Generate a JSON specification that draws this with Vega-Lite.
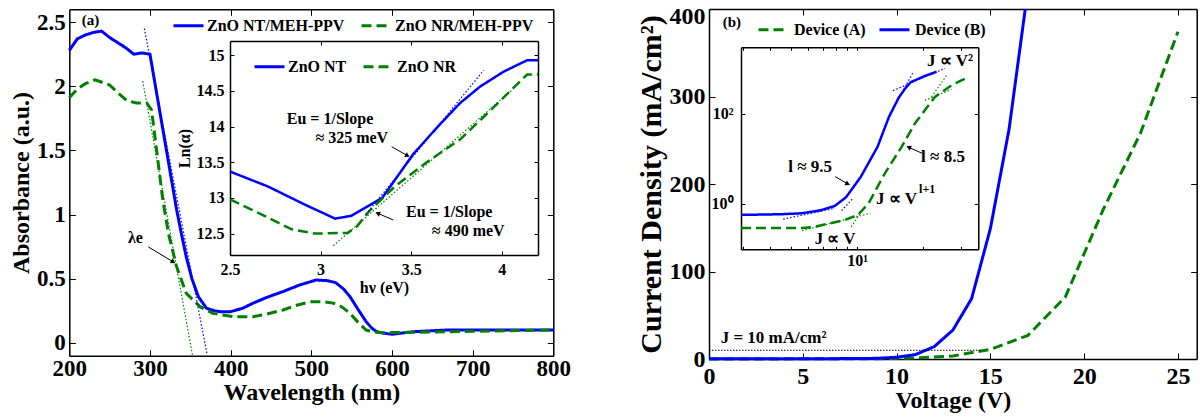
{
"$schema":"https://vega.github.io/schema/vega-lite/v6.json",
"width":1203,"height":419,"autosize":"none","padding":0,"background":"white",
"config":{
 "view":{"stroke":null},
 "font":"Liberation Serif",
 "axis":{"grid":false,"domainColor":"black","domainWidth":1.5,"tickColor":"black","tickWidth":1,"labelFont":"Liberation Serif","labelFontWeight":"bold","labelColor":"black","titleFont":"Liberation Serif","titleFontWeight":"bold","titleColor":"black","labelFlush":false,"labelOverlap":false,"labelBound":false},
 "legend":{"labelFont":"Liberation Serif","labelFontWeight":"bold","labelColor":"black","labelFontSize":16,"symbolType":"stroke","symbolSize":900,"symbolStrokeWidth":3,"padding":0},
 "text":{"font":"Liberation Serif","fontWeight":"bold","color":"black"}
},
"datasets":{
 "aMain":[
  {"wl":200,"abs":2.28,"s":"ZnO NT/MEH-PPV"},{"wl":210,"abs":2.37,"s":"ZnO NT/MEH-PPV"},{"wl":220,"abs":2.40,"s":"ZnO NT/MEH-PPV"},{"wl":230,"abs":2.42,"s":"ZnO NT/MEH-PPV"},{"wl":240,"abs":2.43,"s":"ZnO NT/MEH-PPV"},{"wl":250,"abs":2.38,"s":"ZnO NT/MEH-PPV"},{"wl":260,"abs":2.34,"s":"ZnO NT/MEH-PPV"},{"wl":270,"abs":2.30,"s":"ZnO NT/MEH-PPV"},{"wl":280,"abs":2.25,"s":"ZnO NT/MEH-PPV"},{"wl":290,"abs":2.26,"s":"ZnO NT/MEH-PPV"},{"wl":300,"abs":2.25,"s":"ZnO NT/MEH-PPV"},{"wl":333,"abs":1.04,"s":"ZnO NT/MEH-PPV"},{"wl":339,"abs":0.85,"s":"ZnO NT/MEH-PPV"},{"wl":345,"abs":0.67,"s":"ZnO NT/MEH-PPV"},{"wl":352,"abs":0.50,"s":"ZnO NT/MEH-PPV"},{"wl":360,"abs":0.36,"s":"ZnO NT/MEH-PPV"},{"wl":370,"abs":0.27,"s":"ZnO NT/MEH-PPV"},{"wl":380,"abs":0.25,"s":"ZnO NT/MEH-PPV"},{"wl":387,"abs":0.243,"s":"ZnO NT/MEH-PPV"},{"wl":400,"abs":0.243,"s":"ZnO NT/MEH-PPV"},{"wl":415,"abs":0.27,"s":"ZnO NT/MEH-PPV"},{"wl":428,"abs":0.31,"s":"ZnO NT/MEH-PPV"},{"wl":445,"abs":0.355,"s":"ZnO NT/MEH-PPV"},{"wl":465,"abs":0.40,"s":"ZnO NT/MEH-PPV"},{"wl":485,"abs":0.45,"s":"ZnO NT/MEH-PPV"},{"wl":506,"abs":0.49,"s":"ZnO NT/MEH-PPV"},{"wl":520,"abs":0.485,"s":"ZnO NT/MEH-PPV"},{"wl":530,"abs":0.47,"s":"ZnO NT/MEH-PPV"},{"wl":540,"abs":0.42,"s":"ZnO NT/MEH-PPV"},{"wl":548,"abs":0.36,"s":"ZnO NT/MEH-PPV"},{"wl":558,"abs":0.26,"s":"ZnO NT/MEH-PPV"},{"wl":568,"abs":0.165,"s":"ZnO NT/MEH-PPV"},{"wl":575,"abs":0.115,"s":"ZnO NT/MEH-PPV"},{"wl":581,"abs":0.087,"s":"ZnO NT/MEH-PPV"},{"wl":590,"abs":0.075,"s":"ZnO NT/MEH-PPV"},{"wl":600,"abs":0.067,"s":"ZnO NT/MEH-PPV"},{"wl":626,"abs":0.087,"s":"ZnO NT/MEH-PPV"},{"wl":668,"abs":0.10,"s":"ZnO NT/MEH-PPV"},{"wl":800,"abs":0.10,"s":"ZnO NT/MEH-PPV"},
  {"wl":200,"abs":1.91,"s":"ZnO NR/MEH-PPV"},{"wl":210,"abs":1.98,"s":"ZnO NR/MEH-PPV"},{"wl":220,"abs":2.02,"s":"ZnO NR/MEH-PPV"},{"wl":232,"abs":2.05,"s":"ZnO NR/MEH-PPV"},{"wl":250,"abs":2.01,"s":"ZnO NR/MEH-PPV"},{"wl":260,"abs":1.95,"s":"ZnO NR/MEH-PPV"},{"wl":271,"abs":1.89,"s":"ZnO NR/MEH-PPV"},{"wl":283,"abs":1.87,"s":"ZnO NR/MEH-PPV"},{"wl":296,"abs":1.87,"s":"ZnO NR/MEH-PPV"},{"wl":302,"abs":1.815,"s":"ZnO NR/MEH-PPV"},{"wl":316,"abs":1.11,"s":"ZnO NR/MEH-PPV"},{"wl":323,"abs":0.85,"s":"ZnO NR/MEH-PPV"},{"wl":333,"abs":0.594,"s":"ZnO NR/MEH-PPV"},{"wl":345,"abs":0.386,"s":"ZnO NR/MEH-PPV"},{"wl":362,"abs":0.282,"s":"ZnO NR/MEH-PPV"},{"wl":378,"abs":0.23,"s":"ZnO NR/MEH-PPV"},{"wl":403,"abs":0.204,"s":"ZnO NR/MEH-PPV"},{"wl":428,"abs":0.204,"s":"ZnO NR/MEH-PPV"},{"wl":445,"abs":0.225,"s":"ZnO NR/MEH-PPV"},{"wl":465,"abs":0.256,"s":"ZnO NR/MEH-PPV"},{"wl":480,"abs":0.29,"s":"ZnO NR/MEH-PPV"},{"wl":498,"abs":0.32,"s":"ZnO NR/MEH-PPV"},{"wl":515,"abs":0.32,"s":"ZnO NR/MEH-PPV"},{"wl":527,"abs":0.31,"s":"ZnO NR/MEH-PPV"},{"wl":538,"abs":0.28,"s":"ZnO NR/MEH-PPV"},{"wl":548,"abs":0.23,"s":"ZnO NR/MEH-PPV"},{"wl":558,"abs":0.16,"s":"ZnO NR/MEH-PPV"},{"wl":568,"abs":0.10,"s":"ZnO NR/MEH-PPV"},{"wl":578,"abs":0.085,"s":"ZnO NR/MEH-PPV"},{"wl":589,"abs":0.078,"s":"ZnO NR/MEH-PPV"},{"wl":600,"abs":0.08,"s":"ZnO NR/MEH-PPV"},{"wl":650,"abs":0.085,"s":"ZnO NR/MEH-PPV"},{"wl":700,"abs":0.09,"s":"ZnO NR/MEH-PPV"},{"wl":800,"abs":0.10,"s":"ZnO NR/MEH-PPV"}
 ],
 "aFit":[
  {"wl":293,"abs":2.45,"s":"NT"},{"wl":371,"abs":-0.095,"s":"NT"},
  {"wl":291,"abs":2.04,"s":"NR"},{"wl":352.7,"abs":-0.095,"s":"NR"}
 ],
 "aIn":[
  {"e":2.5,"ln":13.37,"s":"ZnO NT"},{"e":2.71,"ln":13.16,"s":"ZnO NT"},{"e":2.91,"ln":12.91,"s":"ZnO NT"},{"e":3.08,"ln":12.71,"s":"ZnO NT"},{"e":3.17,"ln":12.75,"s":"ZnO NT"},{"e":3.34,"ln":13.0,"s":"ZnO NT"},{"e":3.51,"ln":13.61,"s":"ZnO NT"},{"e":3.64,"ln":13.98,"s":"ZnO NT"},{"e":3.77,"ln":14.33,"s":"ZnO NT"},{"e":3.88,"ln":14.56,"s":"ZnO NT"},{"e":4.01,"ln":14.77,"s":"ZnO NT"},{"e":4.14,"ln":14.93,"s":"ZnO NT"},{"e":4.2,"ln":14.93,"s":"ZnO NT"},
  {"e":2.5,"ln":12.98,"s":"ZnO NR"},{"e":2.69,"ln":12.75,"s":"ZnO NR"},{"e":2.84,"ln":12.56,"s":"ZnO NR"},{"e":2.97,"ln":12.5,"s":"ZnO NR"},{"e":3.15,"ln":12.51,"s":"ZnO NR"},{"e":3.2,"ln":12.6,"s":"ZnO NR"},{"e":3.27,"ln":12.82,"s":"ZnO NR"},{"e":3.41,"ln":13.16,"s":"ZnO NR"},{"e":3.58,"ln":13.49,"s":"ZnO NR"},{"e":3.77,"ln":13.82,"s":"ZnO NR"},{"e":3.93,"ln":14.21,"s":"ZnO NR"},{"e":4.14,"ln":14.73,"s":"ZnO NR"},{"e":4.2,"ln":14.73,"s":"ZnO NR"}
 ],
 "aInFit":[
  {"e":3.25,"ln":12.77,"s":"NT"},{"e":3.90,"ln":14.79,"s":"NT"},
  {"e":3.07,"ln":12.33,"s":"NR"},{"e":4.06,"ln":14.52,"s":"NR"}
 ],
 "bMain":[
  {"v":0,"j":0.1,"s":"Device (A)"},{"v":5,"j":0.15,"s":"Device (A)"},{"v":9,"j":0.4,"s":"Device (A)"},{"v":11,"j":1.2,"s":"Device (A)"},{"v":13,"j":3.5,"s":"Device (A)"},{"v":15,"j":11,"s":"Device (A)"},{"v":17,"j":27,"s":"Device (A)"},{"v":19,"j":71,"s":"Device (A)"},{"v":21,"j":170,"s":"Device (A)"},{"v":23,"j":258,"s":"Device (A)"},{"v":25,"j":374,"s":"Device (A)"},
  {"v":0,"j":0.2,"s":"Device (B)"},{"v":5,"j":0.3,"s":"Device (B)"},{"v":8,"j":0.5,"s":"Device (B)"},{"v":9,"j":0.8,"s":"Device (B)"},{"v":10,"j":2,"s":"Device (B)"},{"v":11,"j":5,"s":"Device (B)"},{"v":12,"j":14,"s":"Device (B)"},{"v":13,"j":33,"s":"Device (B)"},{"v":14,"j":69,"s":"Device (B)"},{"v":15,"j":149,"s":"Device (B)"},{"v":16,"j":263,"s":"Device (B)"},{"v":16.86,"j":400,"s":"Device (B)"}
 ],
 "bIn":[
  {"v":2.95,"j":0.29,"s":"A"},{"v":5.6,"j":0.29,"s":"A"},{"v":6.4,"j":0.31,"s":"A"},{"v":8.8,"j":0.44,"s":"A"},{"v":10.1,"j":0.57,"s":"A"},{"v":11.3,"j":1.04,"s":"A"},{"v":13.4,"j":4.8,"s":"A"},{"v":16.0,"j":18.8,"s":"A"},{"v":18.4,"j":62,"s":"A"},{"v":20.5,"j":125,"s":"A"},{"v":22.7,"j":240,"s":"A"},{"v":27.1,"j":440,"s":"A"},{"v":32.3,"j":660,"s":"A"},
  {"v":2.95,"j":0.57,"s":"B"},{"v":4.5,"j":0.59,"s":"B"},{"v":5.6,"j":0.62,"s":"B"},{"v":6.8,"j":0.72,"s":"B"},{"v":7.9,"j":0.9,"s":"B"},{"v":8.9,"j":1.4,"s":"B"},{"v":10.4,"j":4.0,"s":"B"},{"v":12.4,"j":18.5,"s":"B"},{"v":14.0,"j":87,"s":"B"},{"v":15.5,"j":230,"s":"B"},{"v":16.6,"j":370,"s":"B"},{"v":17.6,"j":510,"s":"B"},{"v":20.4,"j":700,"s":"B"},{"v":23.1,"j":870,"s":"B"}
 ],
 "bInFit":[
  {"v":4.6,"j":0.46,"s":"B","seg":"B1"},{"v":7.93,"j":0.80,"s":"B","seg":"B1"},
  {"v":8.5,"j":0.71,"s":"B","seg":"B2"},{"v":9.5,"j":1.27,"s":"B","seg":"B2"},
  {"v":16.3,"j":343,"s":"B","seg":"B3"},{"v":18.1,"j":873,"s":"B","seg":"B3"},
  {"v":14.6,"j":330,"s":"B","seg":"B4"},{"v":25.2,"j":1030,"s":"B","seg":"B4"},
  {"v":5.6,"j":0.255,"s":"A","seg":"A1"},{"v":11.5,"j":0.62,"s":"A","seg":"A1"},
  {"v":9.4,"j":0.31,"s":"A","seg":"A2"},{"v":10.4,"j":0.64,"s":"A","seg":"A2"},
  {"v":21.9,"j":240,"s":"A","seg":"A3"},{"v":25.7,"j":734,"s":"A","seg":"A3"},
  {"v":20.4,"j":200,"s":"A","seg":"A4"},{"v":27,"j":350,"s":"A","seg":"A4"}
 ]
},
"resolve":{"scale":{"x":"independent","y":"independent","color":"independent","strokeDash":"independent","stroke":"independent"}},
"layer":[
 {
  "resolve":{"axis":{"x":"independent","y":"independent"}},
  "layer":[
   {"data":{"name":"aMain"},
    "mark":{"type":"line","strokeWidth":3},
    "encoding":{
     "x":{"field":"wl","type":"quantitative","scale":{"domain":[200,800],"range":[69.3,553.3],"nice":false,"zero":false},
      "axis":{"orient":"bottom","offset":-63.3,"values":[200,300,400,500,600,700,800],"tickSize":-6,"labelFontSize":23,"labelPadding":8,"title":"Wavelength (nm)","titleFontSize":24,"titlePadding":0}},
     "y":{"field":"abs","type":"quantitative","scale":{"domain":[-0.1,2.6],"range":[355.7,9.3],"nice":false,"zero":false},
      "axis":{"orient":"left","offset":-69.3,"values":[0,0.5,1,1.5,2,2.5],"format":"~g","tickSize":-6,"labelFontSize":23,"labelPadding":10,"title":"Absorbance (a.u.)","titleFontSize":24,"titlePadding":3}},
     "color":{"field":"s","type":"nominal","scale":{"domain":["ZnO NT/MEH-PPV","ZnO NR/MEH-PPV"],"range":["#0000ff","#008000"]},
      "legend":{"orient":"none","legendX":172,"legendY":9,"direction":"horizontal","title":null,"labelOffset":2,"columnPadding":10}},
     "strokeDash":{"field":"s","type":"nominal","scale":{"domain":["ZnO NT/MEH-PPV","ZnO NR/MEH-PPV"],"range":[[1,0],[10,5]]},
      "legend":{"orient":"none","legendX":172,"legendY":9,"direction":"horizontal","title":null,"labelOffset":2,"columnPadding":10}}
    }},
   {"data":{"name":"aFit"},
    "mark":{"type":"line","strokeWidth":1.2,"strokeDash":[1.5,2]},
    "encoding":{
     "x":{"field":"wl","type":"quantitative","axis":{"orient":"top","offset":-9.3,"values":[300,400,500,600,700],"tickSize":-6,"labels":false,"title":null}},
     "y":{"field":"abs","type":"quantitative","axis":{"orient":"right","offset":-649.7,"values":[0,0.5,1,1.5,2,2.5],"tickSize":-6,"labels":false,"title":null}},
     "stroke":{"field":"s","type":"nominal","scale":{"domain":["NT","NR"],"range":["#0000ff","#008000"]},"legend":null}
    }},
   {"data":{"values":[{"x":215.4,"y":2.516,"t":"(a)"}]},
    "mark":{"type":"text","align":"left","baseline":"middle","fontSize":15},
    "encoding":{"x":{"field":"x","type":"quantitative","axis":null},"y":{"field":"y","type":"quantitative","axis":null},"text":{"field":"t"}}},
   {"data":{"values":[{"x":282,"y":0.818,"t":"λe"}]},
    "mark":{"type":"text","align":"center","baseline":"middle","fontSize":16},
    "encoding":{"x":{"field":"x","type":"quantitative","axis":null},"y":{"field":"y","type":"quantitative","axis":null},"text":{"field":"t"}}},
   {"data":{"values":[{"x":297.9,"y":0.748,"x2":328.9,"y2":0.631}]},
    "mark":{"type":"rule","color":"black","strokeWidth":1},
    "encoding":{"x":{"field":"x","type":"quantitative","axis":null},"y":{"field":"y","type":"quantitative","axis":null},"x2":{"field":"x2"},"y2":{"field":"y2"}}},
   {"data":{"values":[{"x":328.9,"y":0.631}]},
    "mark":{"type":"point","shape":"triangle-up","filled":true,"color":"black","opacity":1,"size":30,"angle":121},
    "encoding":{"x":{"field":"x","type":"quantitative","axis":null},"y":{"field":"y","type":"quantitative","axis":null}}}
  ]
 },
 {
  "resolve":{"axis":{"x":"independent","y":"independent"}},
  "layer":[
   {"data":{"name":"aIn"},
    "mark":{"type":"line","strokeWidth":2.5},
    "encoding":{
     "x":{"field":"e","type":"quantitative","scale":{"domain":[2.5,4.2],"range":[230,538],"nice":false,"zero":false},
      "axis":{"orient":"bottom","offset":-164,"values":[2.5,3,3.5,4],"format":"~g","tickSize":-4,"labelFontSize":16,"labelPadding":10,"title":"hν (eV)","titleFontSize":16,"titlePadding":2}},
     "y":{"field":"ln","type":"quantitative","scale":{"domain":[12.2,15.2],"range":[255,41],"nice":false,"zero":false},
      "axis":{"orient":"left","offset":-230,"values":[12.5,13,13.5,14,14.5,15],"format":"~g","tickSize":-4,"labelFontSize":16,"labelPadding":10,"title":"Ln(α)","titleFontSize":16,"titlePadding":4}},
     "color":{"field":"s","type":"nominal","scale":{"domain":["ZnO NT","ZnO NR"],"range":["#0000ff","#008000"]},
      "legend":{"orient":"none","legendX":253,"legendY":50,"direction":"horizontal","title":null,"labelOffset":2,"columnPadding":10}},
     "strokeDash":{"field":"s","type":"nominal","scale":{"domain":["ZnO NT","ZnO NR"],"range":[[1,0],[10,5]]},
      "legend":{"orient":"none","legendX":253,"legendY":50,"direction":"horizontal","title":null,"labelOffset":2,"columnPadding":10}}
    }},
   {"data":{"name":"aInFit"},
    "mark":{"type":"line","strokeWidth":1.2,"strokeDash":[1.5,2]},
    "encoding":{
     "x":{"field":"e","type":"quantitative","axis":{"orient":"top","offset":-41,"values":[3,3.5,4],"tickSize":-4,"labels":false,"title":null}},
     "y":{"field":"ln","type":"quantitative","axis":{"orient":"right","offset":-665,"values":[12.5,13,13.5,14,14.5,15],"tickSize":-4,"labels":false,"title":null}},
     "stroke":{"field":"s","type":"nominal","scale":{"domain":["NT","NR"],"range":["#0000ff","#008000"]},"legend":null}
    }},
   {"data":{"values":[{"x":3.052,"y":14.107,"t":"Eu = 1/Slope"},{"x":3.172,"y":13.847,"t":"≈ 325 meV"},{"x":3.71,"y":12.796,"t":"Eu = 1/Slope"},{"x":3.815,"y":12.539,"t":"≈ 490 meV"}]},
    "mark":{"type":"text","align":"center","baseline":"middle","fontSize":16},
    "encoding":{"x":{"field":"x","type":"quantitative","axis":null},"y":{"field":"y","type":"quantitative","axis":null},"text":{"field":"t"}}},
   {"data":{"values":[{"x":3.392,"y":13.718,"x2":3.48,"y2":13.592},{"x":3.401,"y":12.691,"x2":3.315,"y2":12.785}]},
    "mark":{"type":"rule","color":"black","strokeWidth":1},
    "encoding":{"x":{"field":"x","type":"quantitative","axis":null},"y":{"field":"y","type":"quantitative","axis":null},"x2":{"field":"x2"},"y2":{"field":"y2"}}},
   {"data":{"values":[{"x":3.48,"y":13.592}]},
    "mark":{"type":"point","shape":"triangle-up","filled":true,"color":"black","opacity":1,"size":30,"angle":119},
    "encoding":{"x":{"field":"x","type":"quantitative","axis":null},"y":{"field":"y","type":"quantitative","axis":null}}},
   {"data":{"values":[{"x":3.315,"y":12.785}]},
    "mark":{"type":"point","shape":"triangle-up","filled":true,"color":"black","opacity":1,"size":30,"angle":293},
    "encoding":{"x":{"field":"x","type":"quantitative","axis":null},"y":{"field":"y","type":"quantitative","axis":null}}}
  ]
 },
 {
  "resolve":{"axis":{"x":"independent","y":"independent"}},
  "layer":[
   {"data":{"name":"bMain"},
    "mark":{"type":"line","strokeWidth":3},
    "encoding":{
     "x":{"field":"v","type":"quantitative","scale":{"domain":[0,26],"range":[709,1196.7],"nice":false,"zero":false},
      "axis":{"orient":"bottom","offset":-60,"values":[0,5,10,15,20,25],"tickSize":-6,"labelFontSize":24,"labelPadding":11,"title":"Voltage (V)","titleFontSize":24,"titlePadding":0}},
     "y":{"field":"j","type":"quantitative","scale":{"domain":[0,400],"range":[359,9],"nice":false,"zero":false},
      "axis":{"orient":"left","offset":-709,"values":[0,100,200,300,400],"tickSize":-6,"labelFontSize":24,"labelPadding":10,
       "labelBaseline":{"condition":{"test":"datum.value == 400","value":"top"},"value":"middle"},
       "labelOffset":{"condition":{"test":"datum.value == 400","value":-5},"value":0},
       "title":"Current Density (mA/cm²)","titleFontSize":30,"titlePadding":3}},
     "color":{"field":"s","type":"nominal","scale":{"domain":["Device (A)","Device (B)"],"range":["#008000","#0000ff"]},
      "legend":{"orient":"none","legendX":757,"legendY":13,"direction":"horizontal","title":null,"labelOffset":4,"columnPadding":7}},
     "strokeDash":{"field":"s","type":"nominal","scale":{"domain":["Device (A)","Device (B)"],"range":[[10,5],[1,0]]},
      "legend":{"orient":"none","legendX":757,"legendY":13,"direction":"horizontal","title":null,"labelOffset":4,"columnPadding":7}}
    }},
   {"data":{"values":[{"v0":0,"v1":14.5,"j":10}]},
    "mark":{"type":"rule","color":"black","strokeWidth":1,"strokeDash":[1.5,1.5]},
    "encoding":{
     "x":{"field":"v0","type":"quantitative","axis":{"orient":"top","offset":-9,"values":[5,10,15,20,25],"tickSize":-6,"labels":false,"title":null}},
     "x2":{"field":"v1"},
     "y":{"field":"j","type":"quantitative","axis":{"orient":"right","offset":-6.3,"values":[100,200,300],"tickSize":-6,"labels":false,"title":null}}
    }},
   {"data":{"values":[{"x":0.73,"y":384.6,"t":"(b)"}]},
    "mark":{"type":"text","align":"left","baseline":"middle","fontSize":15},
    "encoding":{"x":{"field":"x","type":"quantitative","axis":null},"y":{"field":"y","type":"quantitative","axis":null},"text":{"field":"t"}}},
   {"data":{"values":[{"x":0.62,"y":23.7,"t":"J = 10 mA/cm²"}]},
    "mark":{"type":"text","align":"left","baseline":"middle","fontSize":17},
    "encoding":{"x":{"field":"x","type":"quantitative","axis":null},"y":{"field":"y","type":"quantitative","axis":null},"text":{"field":"t"}}}
  ]
 },
 {
  "resolve":{"axis":{"x":"independent","y":"independent"}},
  "layer":[
   {"data":{"name":"bIn"},
    "mark":{"type":"line","strokeWidth":2.5},
    "encoding":{
     "x":{"field":"v","type":"quantitative","scale":{"type":"log","domain":[2.95,35.8],"range":[741,978.3],"nice":false,"zero":false},
      "axis":{"orient":"bottom","offset":-169.7,"values":[3,4,5,6,7,8,9,10,20,30],"labelExpr":"datum.value == 10 ? '10¹' : ''","tickSize":-3,"labelFontSize":16,"labelPadding":6,"title":null}},
     "y":{"field":"j","type":"quantitative","scale":{"type":"log","domain":[0.098,3035],"range":[249.3,47.3],"nice":false,"zero":false},
      "axis":{"orient":"left","offset":-741,"values":[1,100],"labelExpr":"datum.value == 1 ? '10⁰' : '10²'","tickSize":-4,"labelFontSize":16,"labelPadding":12,"title":null}},
     "color":{"field":"s","type":"nominal","scale":{"domain":["A","B"],"range":["#008000","#0000ff"]},"legend":null},
     "strokeDash":{"field":"s","type":"nominal","scale":{"domain":["A","B"],"range":[[10,5],[1,0]]},"legend":null}
    }},
   {"data":{"name":"bInFit"},
    "mark":{"type":"line","strokeWidth":1.2,"strokeDash":[1.5,2]},
    "encoding":{
     "x":{"field":"v","type":"quantitative","scale":{"type":"log"},"axis":{"orient":"top","offset":-47.3,"values":[3,4,5,6,7,8,9,10,20,30],"tickSize":-3,"labels":false,"title":null}},
     "y":{"field":"j","type":"quantitative","scale":{"type":"log"},"axis":{"orient":"right","offset":-224.7,"values":[1,100],"tickSize":-4,"labels":false,"title":null}},
     "stroke":{"field":"s","type":"nominal","scale":{"domain":["A","B"],"range":["#008000","#0000ff"]},"legend":null},
     "detail":{"field":"seg"}
    }},
   {"data":{"values":[{"x":26.6,"y":1510,"t":"J ∝ V²"},{"x":6.1,"y":6.6,"t":"l ≈ 9.5"},{"x":24.7,"y":11.1,"t":"l ≈ 8.5"},{"x":7.94,"y":0.167,"t":"J ∝ V"}]},
    "mark":{"type":"text","align":"center","baseline":"middle","fontSize":17},
    "encoding":{"x":{"field":"x","type":"quantitative","scale":{"type":"log"},"axis":null},"y":{"field":"y","type":"quantitative","scale":{"type":"log"},"axis":null},"text":{"field":"t"}}},
   {"data":{"values":[{"x":18.8,"y":1.31,"t":"J ∝ V"}]},
    "mark":{"type":"text","align":"right","baseline":"middle","fontSize":17},
    "encoding":{"x":{"field":"x","type":"quantitative","scale":{"type":"log"},"axis":null},"y":{"field":"y","type":"quantitative","scale":{"type":"log"},"axis":null},"text":{"field":"t"}}},
   {"data":{"values":[{"x":19.2,"y":2.2,"t":"l+1"}]},
    "mark":{"type":"text","align":"left","baseline":"middle","fontSize":12},
    "encoding":{"x":{"field":"x","type":"quantitative","scale":{"type":"log"},"axis":null},"y":{"field":"y","type":"quantitative","scale":{"type":"log"},"axis":null},"text":{"field":"t"}}},
   {"data":{"values":[{"x":7.94,"y":4.05,"x2":9.07,"y2":2.78},{"x":19.8,"y":13.4,"x2":17.2,"y2":18.2}]},
    "mark":{"type":"rule","color":"black","strokeWidth":1},
    "encoding":{"x":{"field":"x","type":"quantitative","scale":{"type":"log"},"axis":null},"y":{"field":"y","type":"quantitative","scale":{"type":"log"},"axis":null},"x2":{"field":"x2"},"y2":{"field":"y2"}}},
   {"data":{"values":[{"x":9.07,"y":2.78}]},
    "mark":{"type":"point","shape":"triangle-up","filled":true,"color":"black","opacity":1,"size":30,"angle":116},
    "encoding":{"x":{"field":"x","type":"quantitative","scale":{"type":"log"},"axis":null},"y":{"field":"y","type":"quantitative","scale":{"type":"log"},"axis":null}}},
   {"data":{"values":[{"x":17.2,"y":18.2}]},
    "mark":{"type":"point","shape":"triangle-up","filled":true,"color":"black","opacity":1,"size":30,"angle":294},
    "encoding":{"x":{"field":"x","type":"quantitative","scale":{"type":"log"},"axis":null},"y":{"field":"y","type":"quantitative","scale":{"type":"log"},"axis":null}}}
  ]
 }
]
}
